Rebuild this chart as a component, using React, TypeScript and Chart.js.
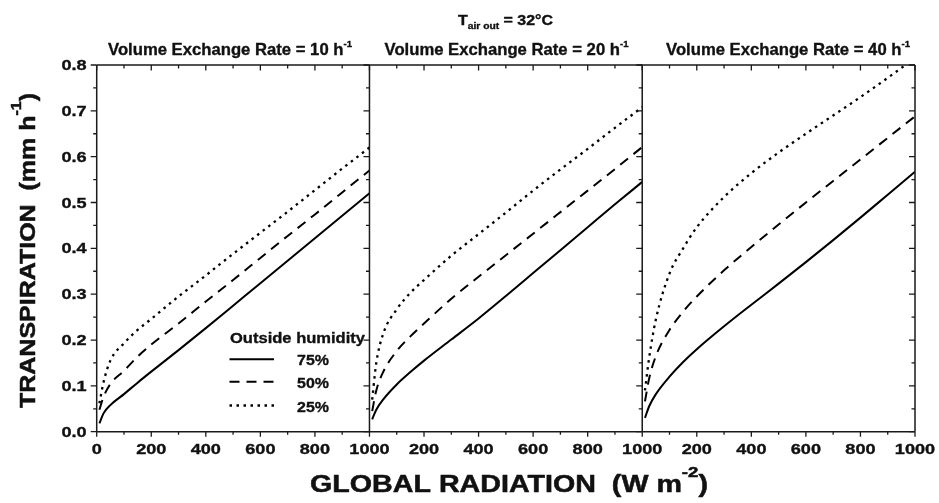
import React, { useEffect, useRef } from "react";
import { Chart, registerables } from "chart.js";

Chart.register(...registerables);

// ---- data ----
const radiation = [10, 25, 50, 100, 150, 200, 300, 400, 500, 600, 700, 800, 900, 1000];

// Volume exchange rate = 10 h-1
const rate10_h75 = [0.018, 0.04, 0.058, 0.082, 0.107, 0.131, 0.178, 0.226, 0.275, 0.324, 0.373, 0.422, 0.471, 0.52];
const rate10_h50 = [0.048, 0.076, 0.104, 0.133, 0.164, 0.19, 0.236, 0.284, 0.331, 0.379, 0.427, 0.474, 0.522, 0.57];
const rate10_h25 = [0.062, 0.108, 0.155, 0.193, 0.222, 0.246, 0.295, 0.341, 0.388, 0.434, 0.48, 0.527, 0.574, 0.62];

// Volume exchange rate = 20 h-1
const rate20_h75 = [0.027, 0.048, 0.07, 0.103, 0.13, 0.155, 0.201, 0.247, 0.296, 0.346, 0.396, 0.446, 0.496, 0.545];
const rate20_h50 = [0.045, 0.09, 0.13, 0.176, 0.208, 0.236, 0.29, 0.338, 0.385, 0.432, 0.479, 0.526, 0.573, 0.621];
const rate20_h25 = [0.07, 0.15, 0.213, 0.267, 0.303, 0.331, 0.384, 0.431, 0.478, 0.526, 0.572, 0.617, 0.663, 0.708];

// Volume exchange rate = 40 h-1
const rate40_h75 = [0.03, 0.055, 0.082, 0.12, 0.152, 0.18, 0.23, 0.277, 0.323, 0.37, 0.418, 0.467, 0.517, 0.567];
const rate40_h50 = [0.066, 0.115, 0.165, 0.222, 0.262, 0.295, 0.352, 0.403, 0.452, 0.5, 0.547, 0.594, 0.641, 0.688];
const rate40_h25 = [0.09, 0.16, 0.245, 0.345, 0.4, 0.446, 0.512, 0.564, 0.609, 0.65, 0.69, 0.73, 0.772, 0.815];

const exchangeRates = ["10", "20", "40"];
const humidityLabels = ["75%", "50%", "25%"];
const panelSeries = [
  [rate10_h75, rate10_h50, rate10_h25],
  [rate20_h75, rate20_h50, rate20_h25],
  [rate40_h75, rate40_h50, rate40_h25],
];

const radiationTicks = [0, 100, 200, 300, 400, 500, 600, 700, 800, 900, 1000];
const radiationTickLabels = ["0", "", "200", "", "400", "", "600", "", "800", "", "1000"];
const transpirationTicks = [0, 0.05, 0.1, 0.15, 0.2, 0.25, 0.3, 0.35, 0.4, 0.45, 0.5, 0.55, 0.6, 0.65, 0.7, 0.75, 0.8];
const transpirationTickLabels = ["0.0", "", "0.1", "", "0.2", "", "0.3", "", "0.4", "", "0.5", "", "0.6", "", "0.7", "", "0.8"];

// ---- styles ----
const PANEL_SPAN = 1000;
const lineDashes = [[], [10, 7], [2.5, 4.5]];
const lineWidths = [2, 2, 2.3];
const FONT = '"Liberation Sans", Arial, Helvetica, sans-serif';
const INK = "#111";

type Run = { t: string; size: number; dy?: number };

function runsWidth(ctx: CanvasRenderingContext2D, runs: Run[]) {
  let w = 0;
  for (const r of runs) {
    ctx.font = `bold ${r.size}px ${FONT}`;
    w += ctx.measureText(r.t).width;
  }
  return w;
}

function drawRuns(
  ctx: CanvasRenderingContext2D,
  runs: Run[],
  x: number,
  y: number,
  align: "left" | "center" | "right",
  sx: number,
  rotate = 0,
  fitWidth?: number,
  weight = 0.35
) {
  ctx.save();
  ctx.translate(x, y);
  if (rotate) ctx.rotate(rotate);
  const natural = runsWidth(ctx, runs);
  const s = fitWidth ? fitWidth / natural : sx;
  ctx.scale(s, 1);
  let start = align === "center" ? -natural / 2 : align === "right" ? -natural : 0;
  ctx.fillStyle = INK;
  ctx.strokeStyle = INK;
  ctx.lineWidth = weight;
  ctx.lineJoin = "round";
  ctx.setLineDash([]);
  ctx.textBaseline = "alphabetic";
  ctx.textAlign = "left";
  for (const r of runs) {
    ctx.font = `bold ${r.size}px ${FONT}`;
    ctx.fillText(r.t, start, r.dy || 0);
    if (weight > 0) ctx.strokeText(r.t, start, r.dy || 0);
    start += ctx.measureText(r.t).width;
  }
  ctx.restore();
}

const framePlugin = {
  id: "framePlugin",
  afterDatasetsDraw(chart: any) {
    const ctx: CanvasRenderingContext2D = chart.ctx;
    const xs = chart.scales.x;
    const ys = chart.scales.y;
    const { top, bottom, left, right } = chart.chartArea;
    ctx.save();
    ctx.strokeStyle = "#1a1a1a";
    ctx.lineWidth = 1.5;

    // frame
    ctx.beginPath();
    ctx.moveTo(left, top);
    ctx.lineTo(right, top);
    ctx.moveTo(left, bottom);
    ctx.lineTo(right, bottom);
    for (let p = 0; p <= exchangeRates.length; p++) {
      const px = xs.getPixelForValue(p * PANEL_SPAN);
      ctx.moveTo(px, top);
      ctx.lineTo(px, bottom);
    }
    ctx.stroke();

    // x ticks (bottom outward, top inward)
    ctx.lineWidth = 1.3;
    ctx.beginPath();
    for (let p = 0; p < exchangeRates.length; p++) {
      radiationTicks.forEach((v, i) => {
        const px = xs.getPixelForValue(p * PANEL_SPAN + v);
        const major = i % 2 === 0;
        ctx.moveTo(px, bottom);
        ctx.lineTo(px, bottom + (major ? 5 : 3));
        ctx.moveTo(px, top);
        ctx.lineTo(px, top + (major ? 5.5 : 3.5));
      });
    }
    // y ticks, all pointing left
    for (let p = 0; p <= exchangeRates.length; p++) {
      const px = xs.getPixelForValue(p * PANEL_SPAN);
      transpirationTicks.forEach((v, i) => {
        const py = ys.getPixelForValue(v);
        const major = i % 2 === 0;
        ctx.moveTo(px, py);
        ctx.lineTo(px - (major ? 6 : 3.5), py);
      });
    }
    ctx.stroke();

    // tick labels
    const TS = 1.25;
    for (let p = 0; p < exchangeRates.length; p++) {
      radiationTicks.forEach((v, i) => {
        const label = radiationTickLabels[i];
        if (!label) return;
        if (p > 0 && v === 0) return;
        const px = xs.getPixelForValue(p * PANEL_SPAN + v);
        drawRuns(ctx, [{ t: label, size: 14.5 }], px, bottom + 22.5, "center", TS);
      });
    }
    transpirationTicks.forEach((v, i) => {
      const label = transpirationTickLabels[i];
      if (!label) return;
      const py = ys.getPixelForValue(v);
      drawRuns(ctx, [{ t: label, size: 14.5 }], left - 10, py + 5, "right", TS);
    });

    // panel titles
    const titleCenters = [230, 506.5, 788];
    exchangeRates.forEach((r, p) => {
      drawRuns(
        ctx,
        [
          { t: `Volume Exchange Rate = ${r} h`, size: 16.5 },
          { t: "-1", size: 9.5, dy: -8 },
        ],
        titleCenters[p],
        55,
        "center",
        1,
        0,
        244
      );
    });

    // header
    drawRuns(
      ctx,
      [
        { t: "T", size: 14 },
        { t: "air out", size: 9, dy: 3.5 },
        { t: " = 32°C", size: 14 },
      ],
      458,
      25,
      "left",
      1,
      0,
      95
    );

    // x axis title
    drawRuns(
      ctx,
      [
        { t: "GLOBAL RADIATION  (W m", size: 23 },
        { t: "-2", size: 15, dy: -15 },
        { t: ")", size: 23 },
      ],
      310,
      491.7,
      "left",
      1,
      0,
      398,
      0.5
    );

    // y axis title
    drawRuns(
      ctx,
      [
        { t: "TRANSPIRATION  (mm h", size: 22 },
        { t: "-1", size: 14, dy: -14 },
        { t: ")", size: 22 },
      ],
      35,
      408,
      "left",
      1,
      -Math.PI / 2,
      315,
      0.5
    );

    // legend
    drawRuns(ctx, [{ t: "Outside humidity", size: 15.5 }], 230, 342.7, "left", 1, 0, 135);
    const legendY = [359.3, 381.7, 405.5];
    humidityLabels.forEach((lab, i) => {
      ctx.save();
      ctx.strokeStyle = "#000";
      ctx.lineWidth = lineWidths[i];
      ctx.setLineDash(lineDashes[i]);
      ctx.beginPath();
      ctx.moveTo(229.5, legendY[i]);
      ctx.lineTo(274, legendY[i]);
      ctx.stroke();
      ctx.restore();
      drawRuns(ctx, [{ t: lab, size: 15.5 }], 297, legendY[i] + 6, "left", 1.03);
    });

    ctx.restore();
  },
};

export default function App() {
  const ref = useRef<HTMLCanvasElement | null>(null);

  useEffect(() => {
    if (!ref.current) return;
    const datasets: any[] = [];
    panelSeries.forEach((series, p) => {
      series.forEach((vals, h) => {
        datasets.push({
          label: `${exchangeRates[p]} h-1, ${humidityLabels[h]}`,
          data: radiation.map((x, i) => ({ x: p * PANEL_SPAN + x, y: vals[i] })),
          borderColor: "#000",
          backgroundColor: "#000",
          borderWidth: lineWidths[h],
          borderDash: lineDashes[h],
          pointRadius: 0,
          cubicInterpolationMode: "monotone",
          fill: false,
          clip: 0,
        });
      });
    });

    const chart = new Chart(ref.current, {
      type: "line",
      data: { datasets },
      options: {
        responsive: false,
        animation: false,
        parsing: true,
        layout: { padding: { left: 96.7, top: 65, right: 24, bottom: 71.3 } },
        plugins: { legend: { display: false }, tooltip: { enabled: false } },
        scales: {
          x: { type: "linear", min: 0, max: 3 * PANEL_SPAN, display: false },
          y: { type: "linear", min: 0, max: 0.8, display: false },
        },
      },
      plugins: [framePlugin],
    });
    return () => chart.destroy();
  }, []);

  return (
    <div style={{ position: "absolute", left: 0, top: 0, width: 939, height: 503, background: "#fff" }}>
      <canvas ref={ref} width={939} height={503} />
    </div>
  );
}
